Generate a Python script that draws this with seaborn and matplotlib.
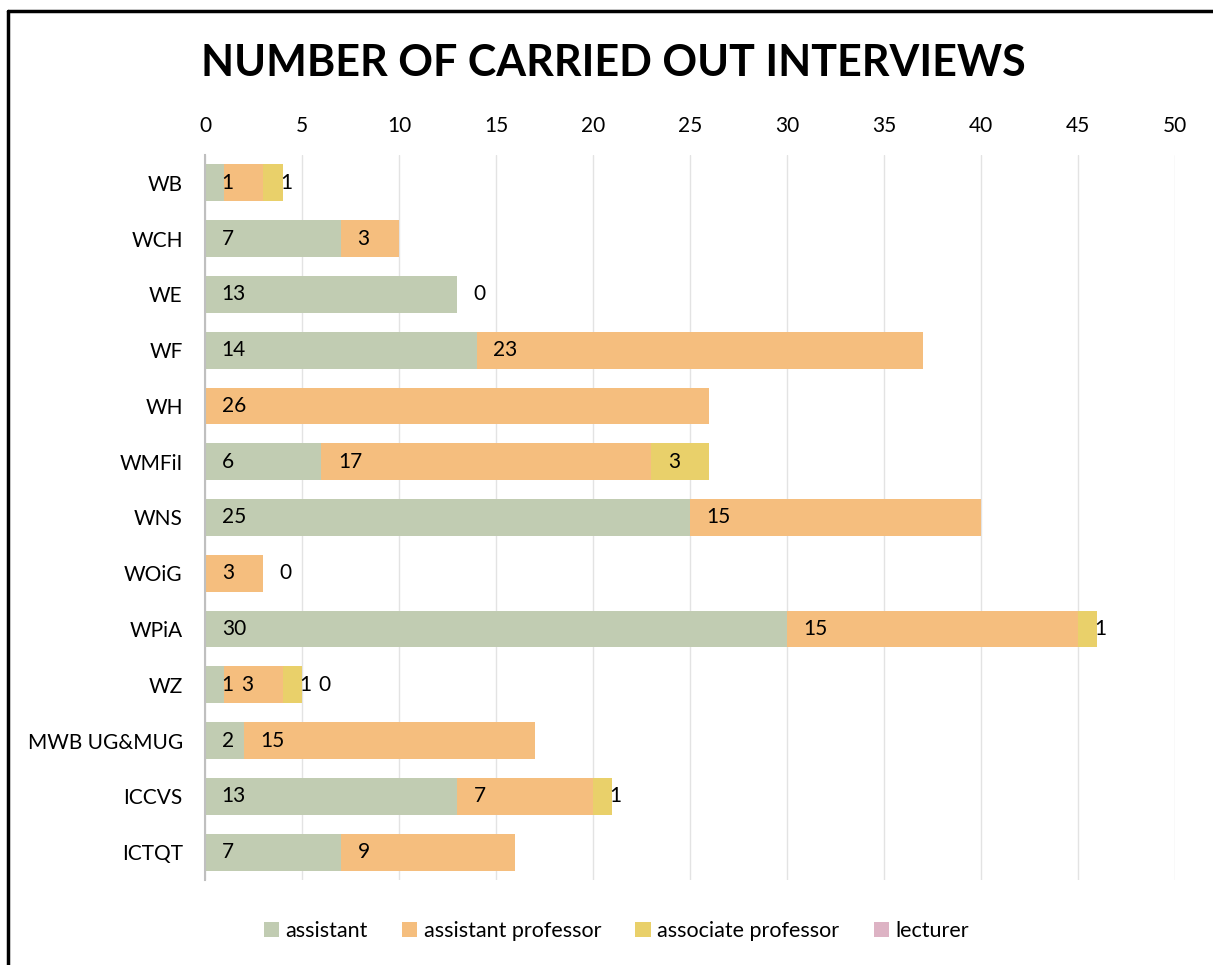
import matplotlib
matplotlib.use("Agg")
import matplotlib.pyplot as plt
from matplotlib.patches import Patch
from matplotlib.lines import Line2D
import seaborn as sns

# data
departments = ['WB', 'WCH', 'WE', 'WF', 'WH', 'WMFiI', 'WNS', 'WOiG', 'WPiA', 'WZ',
               'MWB UG&MUG', 'ICCVS', 'ICTQT']
assistant = [1, 7, 13, 14, 0, 6, 25, 0, 30, 1, 2, 13, 7]
assistant_professor = [2, 3, 0, 23, 26, 17, 15, 3, 15, 3, 15, 7, 9]
associate_professor = [1, 0, 0, 0, 0, 3, 0, 0, 1, 1, 0, 1, 0]
lecturer = [0, 0, 0, 0, 0, 0, 0, 0, 0, 0, 0, 0, 0]

# data labels as they appear on the chart (None = no label shown)
assistant_labels = [1, 7, 13, 14, None, 6, 25, None, 30, 1, 2, 13, 7]
assistant_professor_labels = [None, 3, 0, 23, 26, 17, 15, 3, 15, 3, 15, 7, 9]
associate_professor_labels = [1, None, None, None, None, 3, None, 0, 1, 1, None, 1, None]
lecturer_labels = [None, None, None, None, None, None, None, None, None, 0, None, None, None]

series_names = ['assistant', 'assistant professor', 'associate professor', 'lecturer']
colors = ['#C1CCB2', '#F5BE7E', '#E9D06A', '#DDB3C4']

sns.set_style("white")
plt.rcParams['font.family'] = ['Lato', 'DejaVu Sans']
plt.rcParams['text.color'] = 'black'
plt.rcParams['xtick.color'] = 'black'
plt.rcParams['ytick.color'] = 'black'

fig = plt.figure(figsize=(12.13, 9.65), dpi=100)
ax = fig.add_axes([0.169, 0.0881, 0.7997, 0.7513])

series = [assistant, assistant_professor, associate_professor, lecturer]
labels = [assistant_labels, assistant_professor_labels, associate_professor_labels, lecturer_labels]

# cumulative totals, drawn back to front so they look stacked
starts = []
cum = [0] * len(departments)
for s in series:
    starts.append(list(cum))
    cum = [c + v for c, v in zip(cum, s)]
ends = [[st + v for st, v in zip(stv, s)] for stv, s in zip(starts, series)]

for k in range(len(series) - 1, -1, -1):
    sns.barplot(x=ends[k], y=departments, orient='h', color=colors[k],
                saturation=1, width=0.66, linewidth=0, edgecolor='none',
                ax=ax, zorder=2)

for k in range(len(series)):
    for i, lab in enumerate(labels[k]):
        if lab is None:
            continue
        ax.annotate(str(lab), (starts[k][i], i), xytext=(12, 0),
                    textcoords='offset points', va='center', ha='left',
                    fontsize=15, color='black', zorder=3)

ax.set_xlim(0, 50)
ax.set_ylim(12.5, -0.5)
ax.set_xticks(range(0, 51, 5))
ax.xaxis.tick_top()
ax.tick_params(axis='x', length=0, labelsize=15, pad=14)
ax.tick_params(axis='y', length=0, labelsize=15, pad=16)
ax.set_xlabel('')
ax.set_ylabel('')
ax.grid(axis='x', color='#E3E3E3', linewidth=1.0, zorder=0)
ax.set_axisbelow(True)
for side in ['top', 'right', 'bottom']:
    ax.spines[side].set_visible(False)
ax.spines['left'].set_color('#BFBFBF')
ax.spines['left'].set_linewidth(1.5)

fig.suptitle('NUMBER OF CARRIED OUT INTERVIEWS', x=0.506, y=0.955,
             fontsize=31, fontweight='bold', color='black')

handles = [Patch(facecolor=c, edgecolor='none', label=n) for c, n in zip(colors, series_names)]
fig.legend(handles=handles, loc='center', bbox_to_anchor=(0.508, 0.035), ncol=4,
           frameon=False, fontsize=15.5, handlelength=0.7, handleheight=0.7,
           handletextpad=0.3, columnspacing=1.6)

# outer frame (chart is cropped on the right and bottom)
fig.add_artist(Line2D([0.0062, 1.0], [1 - 11 / 965, 1 - 11 / 965], color='black',
                      linewidth=2.5, transform=fig.transFigure))
fig.add_artist(Line2D([0.0062, 0.0062], [0.0, 1 - 11 / 965], color='black',
                      linewidth=2.5, transform=fig.transFigure))

plt.savefig('out.png', dpi=100)
